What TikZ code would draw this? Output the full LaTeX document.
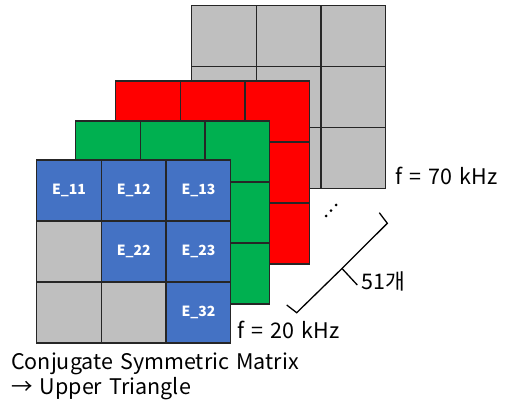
\documentclass[tikz,border=0pt]{standalone}
\usepackage{fontspec}
\setmainfont[WordSpace=1.5]{Noto Sans CJK KR}
\definecolor{cgray}{HTML}{BFBFBF}
\definecolor{cred}{HTML}{FF0000}
\definecolor{cgreen}{HTML}{00B050}
\definecolor{cblue}{HTML}{4472C4}
\definecolor{cline}{HTML}{262626}
\begin{document}
\begin{tikzpicture}[x=1pt,y=-1pt,
  cell/.style={draw=cline, line width=1.3pt, minimum width=64.7pt, minimum height=61pt,
    inner sep=0pt, outer sep=0pt, text=white, font=\bfseries\fontsize{14}{14}\selectfont},
  label/.style={anchor=west, inner sep=0pt, font=\fontsize{21.5}{25}\selectfont},
  bracket/.style={draw=black, line width=1.3pt, line join=miter}]
\useasboundingbox (0,0) rectangle (511,403);
% gray layer (f = 70 kHz)
\foreach \r in {0,1,2}{\foreach \c in {0,1,2}{
  \node[cell, fill=cgray] (g\r\c) at (191.7+\c*64.7+32.35, 5.7+\r*61+30.5) {};}}
% red layer
\foreach \r in {0,1,2}{\foreach \c in {0,1,2}{
  \node[cell, fill=cred] (r\r\c) at (115.7+\c*64.7+32.35, 81+\r*61+30.5) {};}}
% green layer
\foreach \r in {0,1,2}{\foreach \c in {0,1,2}{
  \node[cell, fill=cgreen] (n\r\c) at (75.7+\c*64.7+32.35, 121+\r*61+30.5) {};}}
% blue layer (f = 20 kHz)
\node[cell, fill=cblue] (b00) at (36.7+0*64.7+32.35, 160+0*61+30.5) {E\_11};
\node[cell, fill=cblue] (b01) at (36.7+1*64.7+32.35, 160+0*61+30.5) {E\_12};
\node[cell, fill=cblue] (b02) at (36.7+2*64.7+32.35, 160+0*61+30.5) {E\_13};
\node[cell, fill=cgray] (b10) at (36.7+0*64.7+32.35, 160+1*61+30.5) {};
\node[cell, fill=cblue] (b11) at (36.7+1*64.7+32.35, 160+1*61+30.5) {E\_22};
\node[cell, fill=cblue] (b12) at (36.7+2*64.7+32.35, 160+1*61+30.5) {E\_23};
\node[cell, fill=cgray] (b20) at (36.7+0*64.7+32.35, 160+2*61+30.5) {};
\node[cell, fill=cgray] (b21) at (36.7+1*64.7+32.35, 160+2*61+30.5) {};
\node[cell, fill=cblue] (b22) at (36.7+2*64.7+32.35, 160+2*61+30.5) {E\_32};
% labels
\node[label] (f70) at (395,176) {f = 70 kHz};
\node[label] (f20) at (237,330) {f = 20 kHz};
\node[label] (n51) at (361,281) {51개};
\node[label, anchor=north west, align=left] (cap) at (11,353) {Conjugate Symmetric Matrix\\→ Upper Triangle};
% dots
\fill (326,216) circle (1.5);
\fill (331,210.7) circle (1.5);
\fill (336,205) circle (1.5);
% bracket
\coordinate (bA) at (286.7,305);
\coordinate (bB) at (296.7,312.7);
\coordinate (bM) at (342,268.5);
\coordinate (bC) at (387.3,223.3);
\coordinate (bD) at (379.3,212.7);
\coordinate (bT) at (357.3,285);
\draw[bracket] (bA) -- (bB) -- (bM) -- (bC) -- (bD);
\draw[bracket] (bM) -- (bT);
\end{tikzpicture}
\end{document}
